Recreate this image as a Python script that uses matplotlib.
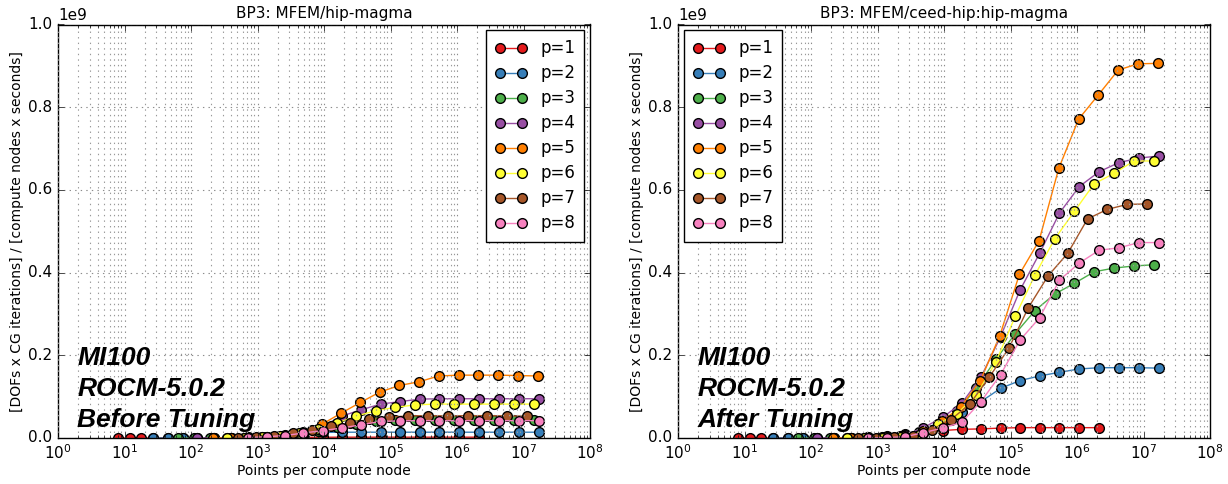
import matplotlib
matplotlib.use("Agg")
import matplotlib.pyplot as plt
from matplotlib.ticker import FixedLocator, NullFormatter, LogFormatterSciNotation

plt.style.use("classic")

# ---------------- data ----------------
labels = ["p=1", "p=2", "p=3", "p=4", "p=5", "p=6", "p=7", "p=8"]
colors = ["#e41a1c", "#377eb8", "#4daf4a", "#984ea3",
          "#ff7f00", "#ffff33", "#a65628", "#f781bf"]

# points per compute node, one list per polynomial order
x_p1 = [8, 12, 18, 27, 45, 75, 125, 225, 405, 729, 1377, 2601, 4913, 9537,
        18513, 35937, 70785, 139425, 274625, 545025, 1081665, 2146689]
x_p2 = [27, 45, 75, 125, 225, 405, 729, 1377, 2601, 4913, 9537, 18513, 35937,
        70785, 139425, 274625, 545025, 1081665, 2146689, 4276737, 8520321,
        16974593]
x_p3 = [64, 112, 196, 343, 637, 1183, 2197, 4225, 8125, 15625, 30625, 60025,
        117649, 232897, 461041, 912673, 1815937, 3613153, 7189057, 14340865]
x_p4 = [125, 225, 405, 729, 1377, 2601, 4913, 9537, 18513, 35937, 70785,
        139425, 274625, 545025, 1081665, 2146689, 4276737, 8520321, 16974593]
x_p5 = [216, 396, 726, 1331, 2541, 4851, 9261, 18081, 35301, 68921, 136161,
        269001, 531441, 1056321, 2099601, 4173281, 8320641, 16589601]
x_p6 = [343, 637, 1183, 2197, 4225, 8125, 15625, 30625, 60025, 117649,
        232897, 461041, 912673, 1815937, 3613153, 7189057, 14340865]
x_p7 = [512, 960, 1800, 3375, 6525, 12615, 24389, 47937, 94221, 185193,
        367137, 727833, 1442897, 2873025, 5720625, 11390625]
x_p8 = [729, 1377, 2601, 4913, 9537, 18513, 35937, 70785, 139425, 274625,
        545025, 1081665, 2146689, 4276737, 8520321, 16974593]

# throughput in units of 1e9 -- before tuning (left panel)
before_p1 = [0, 0, 0, 0, 0, 0, 0.0001, 0.0002, 0.0004, 0.0007, 0.001, 0.0013,
             0.0016, 0.0018, 0.002, 0.002, 0.002, 0.002, 0.002, 0.002, 0.002,
             0.002]
before_p2 = [0, 0, 0.0001, 0.0002, 0.0004, 0.0008, 0.0015, 0.003, 0.006, 0.010,
             0.0135, 0.014, 0.014, 0.014, 0.014, 0.014, 0.014, 0.014, 0.014,
             0.014, 0.014, 0.014]
before_p3 = [0, 0, 0.0003, 0.0006, 0.0012, 0.0025, 0.005, 0.010, 0.018, 0.027,
             0.035, 0.040, 0.043, 0.044, 0.044, 0.044, 0.044, 0.044, 0.044,
             0.044]
before_p4 = [0, 0.0003, 0.0008, 0.0016, 0.003, 0.007, 0.015, 0.028, 0.053,
             0.068, 0.082, 0.088, 0.094, 0.095, 0.095, 0.095, 0.095, 0.095,
             0.095]
before_p5 = [0, 0.0003, 0.001, 0.002, 0.005, 0.012, 0.033, 0.060, 0.086, 0.111,
             0.127, 0.136, 0.150, 0.152, 0.152, 0.152, 0.151, 0.150]
before_p6 = [0.0003, 0.001, 0.002, 0.005, 0.011, 0.022, 0.036, 0.053, 0.066,
             0.074, 0.080, 0.082, 0.082, 0.082, 0.082, 0.082, 0.082]
before_p7 = [0.001, 0.003, 0.006, 0.012, 0.020, 0.028, 0.036, 0.045, 0.050,
             0.0535, 0.054, 0.0535, 0.054, 0.054, 0.0535, 0.053]
before_p8 = [0.001, 0.003, 0.006, 0.012, 0.018, 0.024, 0.032, 0.040, 0.0415,
             0.042, 0.042, 0.042, 0.042, 0.042, 0.042, 0.042]

# throughput in units of 1e9 -- after tuning (right panel)
after_p1 = [0, 0, 0, 0, 0, 0, 0.0002, 0.0004, 0.0008, 0.0015, 0.003, 0.006,
            0.011, 0.018, 0.021, 0.022, 0.024, 0.025, 0.025, 0.025, 0.025,
            0.025]
after_p2 = [0, 0, 0, 0.0002, 0.0005, 0.001, 0.002, 0.004, 0.009, 0.020, 0.042,
            0.064, 0.088, 0.120, 0.139, 0.150, 0.159, 0.167, 0.170, 0.170,
            0.170, 0.169]
after_p3 = [0, 0, 0.0003, 0.0006, 0.001, 0.003, 0.006, 0.014, 0.033, 0.065,
            0.120, 0.190, 0.252, 0.308, 0.348, 0.374, 0.402, 0.411, 0.416,
            0.419]
after_p4 = [0, 0.0003, 0.0006, 0.001, 0.003, 0.007, 0.025, 0.050, 0.084,
            0.147, 0.245, 0.358, 0.447, 0.544, 0.608, 0.644, 0.666, 0.677,
            0.682]
after_p5 = [0, 0.0003, 0.001, 0.002, 0.005, 0.018, 0.040, 0.076, 0.139, 0.247,
            0.396, 0.477, 0.652, 0.771, 0.830, 0.890, 0.905, 0.906]
after_p6 = [0, 0.0005, 0.001, 0.003, 0.008, 0.034, 0.058, 0.104, 0.183, 0.294,
            0.394, 0.481, 0.548, 0.615, 0.640, 0.670, 0.670]
after_p7 = [0.0003, 0.001, 0.002, 0.005, 0.020, 0.044, 0.082, 0.147, 0.217,
            0.315, 0.392, 0.447, 0.530, 0.553, 0.565, 0.566]
after_p8 = [0.0005, 0.001, 0.003, 0.013, 0.024, 0.038, 0.088, 0.153, 0.237,
            0.291, 0.382, 0.423, 0.454, 0.460, 0.4726, 0.4726]

xs = [x_p1, x_p2, x_p3, x_p4, x_p5, x_p6, x_p7, x_p8]
before = [before_p1, before_p2, before_p3, before_p4,
          before_p5, before_p6, before_p7, before_p8]
after = [after_p1, after_p2, after_p3, after_p4,
         after_p5, after_p6, after_p7, after_p8]

titles = ["BP3: MFEM/hip-magma", "BP3: MFEM/ceed-hip:hip-magma"]
notes = ["MI100\nROCM-5.0.2\nBefore Tuning", "MI100\nROCM-5.0.2\nAfter Tuning"]
xlabel = "Points per compute node"
ylabel = "[DOFs x CG iterations] / [compute nodes x seconds]"
legend_locs = ["upper right", "upper left"]
x_decades = [1e0, 1e1, 1e2, 1e3, 1e4, 1e5, 1e6, 1e7, 1e8]
SCALE = 1e9

# ---------------- figure ----------------
fig = plt.figure(figsize=(12.28, 4.84), dpi=100, facecolor="white")
ax_l = fig.add_axes([58 / 1228, 46 / 484, 532 / 1228, 413.5 / 484])
ax_r = fig.add_axes([678 / 1228, 46 / 484, 532 / 1228, 413.5 / 484])

minor_ticks = [m * d for d in x_decades[:-1] for m in range(2, 10)]

for ax, data, title, note, loc in zip([ax_l, ax_r], [before, after], titles,
                                      notes, legend_locs):
    for x, y, c, lab in zip(xs, data, colors, labels):
        ax.plot(x, [v * SCALE for v in y], "-o", color=c, mfc=c, mec="black",
                mew=1.0, ms=7, lw=1.0, label=lab)
    ax.set_xscale("log")
    ax.set_xlim(1, 1e8)
    ax.set_ylim(0, 1e9)
    ax.xaxis.set_major_locator(FixedLocator(x_decades))
    ax.xaxis.set_major_formatter(LogFormatterSciNotation())
    ax.xaxis.set_minor_locator(FixedLocator(minor_ticks))
    ax.xaxis.set_minor_formatter(NullFormatter())
    ax.set_yticks([0, 0.2e9, 0.4e9, 0.6e9, 0.8e9, 1.0e9])
    ax.grid(True, which="major", color="0.55", linestyle=":", linewidth=0.8)
    ax.grid(True, which="minor", axis="x", color="0.6", linestyle=":",
            linewidth=0.8)
    ax.tick_params(labelsize=11, direction="in", top=True, right=True)
    ax.yaxis.get_offset_text().set_fontsize(11)
    ax.set_title(title, fontsize=11)
    ax.set_xlabel(xlabel, fontsize=10)
    ax.xaxis.set_label_coords(0.5, -0.062)
    ax.set_ylabel(ylabel, fontsize=10)
    ax.yaxis.set_label_coords(-0.064, 0.5)
    ax.text(0.036, 0.118, note, transform=ax.transAxes, ha="left", va="center",
            fontsize=19, fontweight="bold", fontstyle="italic",
            family="Liberation Sans", linespacing=1.36)
    ax.legend(loc=loc, numpoints=2, fontsize=12, fancybox=False,
              frameon=True, borderaxespad=0.35, handlelength=1.9,
              borderpad=0.55, labelspacing=0.42, handletextpad=0.8)

fig.savefig("out.png", dpi=100, facecolor="white")
